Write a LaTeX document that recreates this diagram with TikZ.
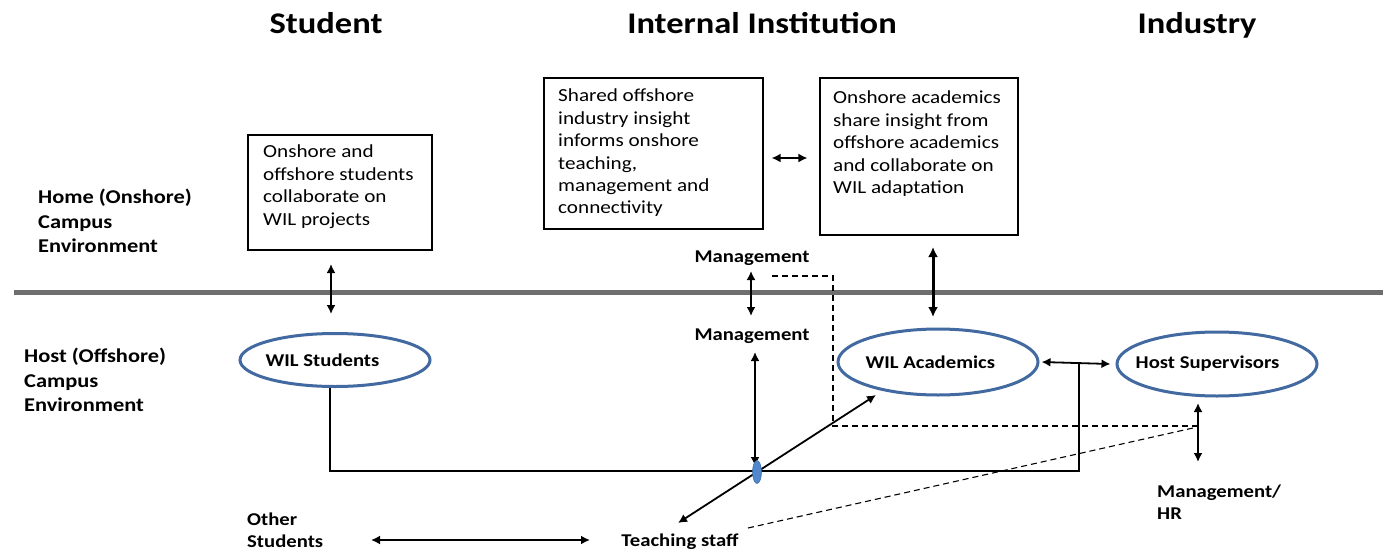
\documentclass[tikz,border=0pt]{standalone}
\usepackage{fontspec}
\setmainfont{Carlito}[FakeStretch=1.15]
\usetikzlibrary{shapes.geometric,arrows.meta}
\definecolor{ovalblue}{RGB}{66,106,160}
\definecolor{dotblue}{RGB}{80,135,205}
\definecolor{divider}{RGB}{110,110,110}
\tikzset{
  heading/.style={font=\bfseries\fontsize{30}{34}\selectfont, anchor=base},
  sidelabel/.style={font=\bfseries\fontsize{19.5}{24.5}\selectfont, align=left, anchor=west, inner sep=0pt},
  tag/.style={font=\bfseries\fontsize{18}{22}\selectfont, align=left, inner sep=0pt},
  infobox/.style={draw, line width=1.1pt, rectangle, inner sep=0pt},
  boxtext/.style={font=\fontsize{18.4}{22.4}\selectfont, align=left, anchor=north west, inner sep=0pt},
  oval/.style={draw=ovalblue, line width=3pt, ellipse, inner sep=0pt},
  ovaltext/.style={inner sep=0pt, anchor=west, font=\bfseries\fontsize{18}{22}\selectfont},
  link/.style={line width=1.8pt},
  twoway/.style={line width=1.8pt, {Latex[length=9pt,width=9pt]}-{Latex[length=9pt,width=9pt]}},
  twowaythick/.style={line width=3pt, {Latex[length=10pt,width=10pt]}-{Latex[length=10pt,width=10pt]}},
  hint/.style={line width=1.1pt, dash pattern=on 6pt off 4pt},
}
\begin{document}
\begin{tikzpicture}[x=1pt,y=-1pt]
\useasboundingbox (0,0) rectangle (1383,554);

% column headings
\node[heading] (hstudent) at (326,33) {Student};
\node[heading] (hinst) at (762,33) {Internal Institution};
\node[heading] (hind) at (1197,33) {Industry};

% environment labels
\node[sidelabel] (home) at (38,221) {Home (Onshore)\\Campus\\Environment};
\node[sidelabel] (host) at (24,380) {Host (Offshore)\\Campus\\Environment};

% divider between onshore and offshore
\draw[divider, line width=5pt] (14,292) coordinate (dl) -- (1383,292) coordinate (dr);

% onshore boxes
\node[infobox, minimum width=184pt, minimum height=115pt] (b1) at (340,192.5) {};
\node[boxtext] (t1) at (263,145) {Onshore and\\offshore students\\collaborate on\\WIL projects};
\node[infobox, minimum width=219pt, minimum height=151pt] (b2) at (653.5,153.5) {};
\node[boxtext] (t2) at (558,89) {Shared offshore\\industry insight\\informs onshore\\teaching,\\management and\\connectivity};
\node[infobox, minimum width=198pt, minimum height=157pt] (b3) at (919,156.5) {};
\node[boxtext] (t3) at (833,91) {Onshore academics\\share insight from\\offshore academics\\and collaborate on\\WIL adaptation};

% offshore ovals
\node[oval, minimum width=190pt, minimum height=53pt] (ws) at (335,360) {};
\node[ovaltext] (wst) at ([xshift=27pt]ws.west) {WIL Students};
\node[oval, minimum width=200pt, minimum height=66pt] (wa) at (938,362) {};
\node[ovaltext] (wat) at ([xshift=29pt]wa.west) {WIL Academics};
\node[oval, minimum width=200pt, minimum height=64pt] (hs) at (1217,364) {};
\node[ovaltext] (hst) at ([xshift=20pt]hs.west) {Host Supervisors};

% management and other labels
\node[tag] (m1) at (752,258) {Management};
\node[tag] (m2) at (752,336) {Management};
\node[tag, anchor=west] (mhr) at (1157,502) {Management/\\HR};
\node[tag, anchor=west] (os) at (247,530) {Other\\Students};
\node[tag] (ts) at (680,542) {Teaching staff};

% helper points
\coordinate (a1t) at (331,264);
\coordinate (a1b) at (331,314);
\coordinate (a3t) at (933,247);
\coordinate (a3b) at (933,317);
\coordinate (m1t) at (751,271);
\coordinate (m1b) at (751,316);
\coordinate (m2t) at (755,352);
\coordinate (m2b) at (755,466);
\coordinate (hub) at (757,472);
\coordinate (corner1) at (330,471);
\coordinate (corner2) at (1079,471);
\coordinate (split) at (1079,363);
\coordinate (mhrt) at (1198,403);
\coordinate (mhrb) at (1198,462);
\coordinate (osl) at (371,540);
\coordinate (osr) at (590,540);
\coordinate (tsup) at (678,523);
\coordinate (waend) at (876,395);
\coordinate (dash1) at (772,276);
\coordinate (dash2) at (833,276);
\coordinate (dash3) at (833,426);
\coordinate (dash4) at (1197,426);
\coordinate (dash5) at (748,528);
\coordinate (dash6) at (1193,428);

% onshore connections
\draw[twoway] (a1t) -- (a1b);
\draw[twoway] ([xshift=8pt]b2.east |- 0,158) -- ([xshift=-12pt]b3.west |- 0,158);
\draw[twowaythick] (a3t) -- (a3b);
\draw[twoway] (m1t) -- (m1b);

% offshore network
\draw[link] (ws.south -| corner1) -- (corner1) -- (corner2) -- (split);
\draw[twoway] ([xshift=2pt]wa.east) -- ([xshift=-5pt]hs.west);
\draw[twoway] (m2t) -- (m2b);
\draw[twoway] (tsup) -- (waend);
\draw[twoway] (mhrt) -- (mhrb);
\draw[twoway] (osl) -- (osr);
\node[fill=dotblue, draw=dotblue!80!black, line width=0.5pt, ellipse, minimum width=9pt, minimum height=23pt, inner sep=0pt] (hubdot) at (hub) {};

% dashed management links
\draw[hint] (dash1) -- (dash2) -- (dash3) -- (dash4);
\draw[hint] (dash5) -- (dash6);
\end{tikzpicture}
\end{document}
